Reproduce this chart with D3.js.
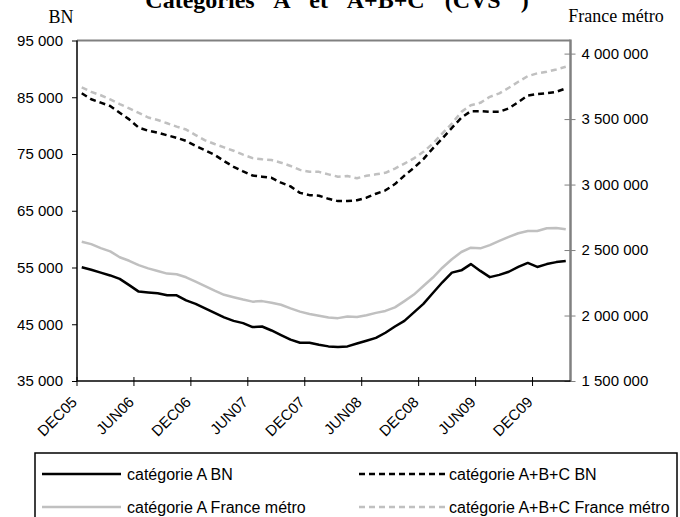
<!DOCTYPE html>
<html>
<head>
<meta charset="utf-8">
<script src="https://cdn.jsdelivr.net/npm/d3@7"></script>
<style>
  body { margin: 0; background: #fff; }
  svg { display: block; }
</style>
</head>
<body>
<svg id="chart" width="680" height="517"></svg>
<script>
// months Dec 2005 -> Mar 2010
const months = [
  "DEC05",
  "JAN06","FEB06","MAR06","APR06","MAY06","JUN06","JUL06","AUG06","SEP06","OCT06","NOV06","DEC06",
  "JAN07","FEB07","MAR07","APR07","MAY07","JUN07","JUL07","AUG07","SEP07","OCT07","NOV07","DEC07",
  "JAN08","FEB08","MAR08","APR08","MAY08","JUN08","JUL08","AUG08","SEP08","OCT08","NOV08","DEC08",
  "JAN09","FEB09","MAR09","APR09","MAY09","JUN09","JUL09","AUG09","SEP09","OCT09","NOV09","DEC09",
  "JAN10","FEB10","MAR10"
];
const xTickLabels = ["DEC05","JUN06","DEC06","JUN07","DEC07","JUN08","DEC08","JUN09","DEC09"];

// BN (left axis)
const catA_BN = [
  55050, 54600, 54100, 53600, 53000, 51900, 50750, 50600, 50450, 50100,
  50100, 49200, 48600, 47800, 47000, 46200, 45600, 45200, 44500, 44600,
  43900, 43100, 42300, 41750, 41750, 41400, 41100, 41000, 41100, 41600,
  42100, 42600, 43500, 44600, 45600, 47100, 48600, 50500, 52400, 54100,
  54500, 55600, 54400, 53300, 53700, 54250, 55100, 55800, 55100, 55600,
  55950, 56150
];
const catABC_BN = [
  85700, 84650, 84050, 83450, 82250, 81100, 79650, 79100, 78750, 78300,
  77850, 77300, 76450, 75650, 74850, 73750, 72750, 71950, 71200, 71000,
  70800, 69950, 69300, 68150, 67750, 67650, 67100, 66700, 66700, 66850,
  67300, 68000, 68600, 69700, 71200, 72550, 74100, 76000, 77750, 79600,
  81400, 82550, 82550, 82450, 82450, 83050, 84150, 85300, 85550, 85700,
  85950, 86550
];

// France métro (right axis)
const catA_FR = [
  2563000, 2545000, 2515000, 2490000, 2445000, 2418000, 2385000, 2360000, 2340000, 2320000,
  2315000, 2292000, 2258000, 2225000, 2190000, 2158000, 2140000, 2122000, 2106000, 2110000,
  2098000, 2082000, 2055000, 2030000, 2012000, 1998000, 1985000, 1980000, 1993000, 1988000,
  2002000, 2020000, 2035000, 2062000, 2110000, 2160000, 2225000, 2290000, 2365000, 2430000,
  2485000, 2518000, 2513000, 2538000, 2570000, 2600000, 2628000, 2645000, 2645000, 2666000,
  2668000, 2658000
];
const catABC_FR = [
  3742000, 3708000, 3682000, 3650000, 3615000, 3582000, 3548000, 3512000, 3493000, 3468000,
  3442000, 3420000, 3378000, 3338000, 3310000, 3284000, 3258000, 3228000, 3202000, 3193000,
  3187000, 3167000, 3142000, 3112000, 3098000, 3097000, 3078000, 3060000, 3065000, 3048000,
  3067000, 3078000, 3090000, 3122000, 3160000, 3200000, 3250000, 3314000, 3390000, 3466000,
  3555000, 3606000, 3624000, 3670000, 3696000, 3739000, 3785000, 3828000, 3849000, 3861000,
  3879000, 3899000
];

const leftTicks = [35000, 45000, 55000, 65000, 75000, 85000, 95000];
const rightTicks = [1500000, 2000000, 2500000, 3000000, 3500000, 4000000];

const series = [
  { name: "catégorie A BN", values: catA_BN, axis: "left", color: "#000", dash: null },
  { name: "catégorie A+B+C BN", values: catABC_BN, axis: "left", color: "#000", dash: "6,4" },
  { name: "catégorie A France métro", values: catA_FR, axis: "right", color: "#c0c0c0", dash: null },
  { name: "catégorie A+B+C France métro", values: catABC_FR, axis: "right", color: "#c0c0c0", dash: "6,4" }
];

const plot = { left: 77, right: 570.5, top: 40.5, bottom: 381 };
const sans = "'Liberation Sans', Arial, sans-serif";
const serif = "'Liberation Serif', 'Times New Roman', serif";

const fmt = d3.formatLocale({ decimal: ",", thousands: " ", grouping: [3], currency: ["", ""] }).format(",d");

const svg = d3.select("#chart");

const x = d3.scaleBand().domain(months).range([plot.left, plot.right]).paddingInner(0).paddingOuter(0);
const yL = d3.scaleLinear().domain([35000, 95000]).range([plot.bottom, plot.top]);
const yR = d3.scaleLinear().domain([1500000, 4100000]).range([plot.bottom, plot.top]);

// title + axis captions (title is cut by the top edge, as in the source)
svg.append("text")
  .attr("x", 337).attr("y", 8)
  .attr("text-anchor", "middle")
  .attr("font-family", serif).attr("font-weight", "bold").attr("font-size", 24)
  .attr("word-spacing", 14)
  .text("Catégories A et A+B+C (CVS )");

svg.append("text")
  .attr("x", 61).attr("y", 22.5)
  .attr("text-anchor", "middle")
  .attr("font-family", serif).attr("font-size", 18)
  .text("BN");

svg.append("text")
  .attr("x", 616).attr("y", 21.5)
  .attr("text-anchor", "middle")
  .attr("font-family", serif).attr("font-size", 18)
  .text("France métro");

// frame: top and right in gray
svg.append("line")
  .attr("x1", plot.left).attr("x2", plot.right)
  .attr("y1", plot.top).attr("y2", plot.top)
  .attr("stroke", "#808080").attr("stroke-width", 2);

// right axis
const rightAxis = d3.axisRight(yR).tickValues(rightTicks).tickFormat(fmt).tickSize(5).tickPadding(6);
const gR = svg.append("g").attr("transform", `translate(${plot.right},0)`).call(rightAxis);
gR.select(".domain").remove();
gR.append("line")
  .attr("y1", plot.top - 1).attr("y2", plot.bottom)
  .attr("stroke", "#808080").attr("stroke-width", 2.5);
gR.selectAll(".tick line").attr("x1", -6).attr("stroke", "#808080").attr("stroke-width", 1);
gR.selectAll(".tick text").attr("font-family", sans).attr("font-size", 15).attr("fill", "#000");

// left axis
const leftAxis = d3.axisLeft(yL).tickValues(leftTicks).tickFormat(fmt).tickSize(5).tickPadding(9);
const gL = svg.append("g").attr("transform", `translate(${plot.left},0)`).call(leftAxis);
gL.select(".domain").remove();
gL.append("line")
  .attr("y1", plot.top).attr("y2", plot.bottom)
  .attr("stroke", "#000").attr("stroke-width", 1.5);
gL.selectAll(".tick line").attr("stroke", "#000").attr("stroke-width", 1);
gL.selectAll(".tick text").attr("font-family", sans).attr("font-size", 15).attr("fill", "#000");

// bottom axis: ticks on band edges every 6 months
const gB = svg.append("g");
gB.append("line")
  .attr("x1", plot.left).attr("x2", plot.right)
  .attr("y1", plot.bottom).attr("y2", plot.bottom)
  .attr("stroke", "#000").attr("stroke-width", 1.5);
gB.selectAll("line.tick")
  .data(xTickLabels)
  .join("line")
  .attr("class", "tick")
  .attr("x1", d => x(d)).attr("x2", d => x(d))
  .attr("y1", plot.bottom - 4).attr("y2", plot.bottom + 5)
  .attr("stroke", "#000").attr("stroke-width", 1);
gB.selectAll("text")
  .data(xTickLabels)
  .join("text")
  .attr("transform", d => `translate(${x(d) + 1},${plot.bottom + 22}) rotate(-45)`)
  .attr("text-anchor", "end")
  .attr("font-family", sans).attr("font-size", 15)
  .text(d => d);

// lines
const lineFor = s => d3.line()
  .x((d, i) => x(months[i]) + x.bandwidth() / 2)
  .y(d => (s.axis === "left" ? yL : yR)(d));

svg.append("g")
  .selectAll("path")
  .data(series)
  .join("path")
  .attr("fill", "none")
  .attr("stroke", d => d.color)
  .attr("stroke-width", 2.5)
  .attr("stroke-dasharray", d => d.dash)
  .attr("stroke-linejoin", "round")
  .attr("d", d => lineFor(d)(d.values));

// legend
const legend = svg.append("g");
legend.append("rect")
  .attr("x", 35).attr("y", 453)
  .attr("width", 642).attr("height", 80)
  .attr("fill", "none").attr("stroke", "#000").attr("stroke-width", 1.5);

const legendPos = [
  { lx: 42, ly: 474 }, { lx: 359, ly: 474 },
  { lx: 42, ly: 507 }, { lx: 359, ly: 507 }
];
const legendItems = legend.selectAll("g.item")
  .data(series)
  .join("g")
  .attr("class", "item")
  .attr("transform", (d, i) => `translate(${legendPos[i].lx},${legendPos[i].ly})`);

legendItems.append("line")
  .attr("x1", 0).attr("x2", (d, i) => (i % 2 === 0 ? 79 : 88))
  .attr("stroke", d => d.color)
  .attr("stroke-width", 2.5)
  .attr("stroke-dasharray", d => d.dash);

legendItems.append("text")
  .attr("x", (d, i) => (i % 2 === 0 ? 85 : 90))
  .attr("dy", "0.35em")
  .attr("font-family", sans).attr("font-size", 16)
  .text(d => d.name);
</script>
</body>
</html>
